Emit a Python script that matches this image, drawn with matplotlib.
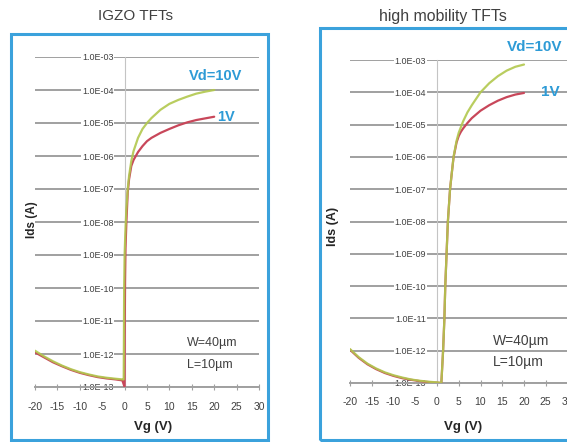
import matplotlib
matplotlib.use("Agg")
import matplotlib.pyplot as plt
import numpy as np
from matplotlib.patches import Rectangle
from matplotlib.ticker import FixedLocator, FixedFormatter

plt.rcParams['font.family'] = ['Liberation Sans', 'DejaVu Sans']

# ---------------- data ----------------
titles = ["IGZO TFTs", "high mobility TFTs"]
x_ticks = [-20, -15, -10, -5, 0, 5, 10, 15, 20, 25, 30]
y_ticks = [1e-13, 1e-12, 1e-11, 1e-10, 1e-9, 1e-8, 1e-7, 1e-6, 1e-5, 1e-4, 1e-3]
y_tick_labels = ["1.0E-13", "1.0E-12", "1.0E-11", "1.0E-10", "1.0E-09", "1.0E-08",
                 "1.0E-07", "1.0E-06", "1.0E-05", "1.0E-04", "1.0E-03"]

# IGZO, Vd = 10 V
igzo_vg_10 = [-20, -18, -16, -14, -12, -10, -8, -6, -4, -2, -0.5, -0.2, -0.15, -0.1, 0.0,
              0.2, 0.4, 0.7, 1.0, 1.5, 2.0, 3.0, 4.0, 5.0, 6.0, 8.0, 10.0, 12.0, 14.0, 16.0, 18.0, 20.0]
igzo_log_10 = [-11.9, -12.07, -12.22, -12.35, -12.46, -12.55, -12.62, -12.68, -12.72, -12.75, -12.77,
               -12.77, -11.5, -10.0, -9.0, -8.2, -7.6, -7.0, -6.6, -6.15, -5.85, -5.45, -5.18, -5.0,
               -4.85, -4.6, -4.42, -4.3, -4.2, -4.11, -4.05, -4.0]
# IGZO, Vd = 1 V
igzo_vg_1 = [-20, -18, -16, -14, -12, -10, -8, -6, -4, -2, -0.5, 0.0, 0.02, 0.1, 0.2,
             0.4, 0.7, 1.0, 1.5, 2.0, 2.5, 3.0, 4.0, 5.0, 6.0, 8.0, 10.0, 12.0, 14.0, 16.0, 18.0, 20.0]
igzo_log_1 = [-11.95, -12.1, -12.25, -12.37, -12.48, -12.57, -12.64, -12.7, -12.74, -12.77, -12.8,
              -13.0, -11.5, -9.8, -8.8, -8.0, -7.1, -6.7, -6.3, -6.12, -6.0, -5.88, -5.7, -5.55,
              -5.45, -5.3, -5.18, -5.07, -4.98, -4.91, -4.86, -4.81]

# high mobility, Vd = 10 V
hm_vg_10 = [-20, -18, -16, -14, -12, -10, -8, -6, -4, -2, 0, 1.0, 1.4, 1.7, 1.9, 2.2, 2.5,
            3.0, 3.4, 3.8, 4.5, 5.0, 6.0, 7.0, 8.0, 10.0, 12.0, 14.0, 16.0, 18.0, 20.0]
hm_log_10 = [-11.95, -12.2, -12.4, -12.55, -12.67, -12.76, -12.83, -12.89, -12.93, -12.96, -12.98,
             -13.0, -12.0, -11.0, -10.0, -9.0, -8.0, -7.0, -6.5, -6.0, -5.5, -5.25, -4.9, -4.62,
             -4.4, -4.0, -3.72, -3.5, -3.33, -3.21, -3.14]
# high mobility, Vd = 1 V
hm_vg_1 = [-20, -18, -16, -14, -12, -10, -8, -6, -4, -2, 0, 1.0, 1.4, 1.7, 1.9, 2.2, 2.5,
           3.0, 3.4, 3.8, 4.5, 5.0, 5.5, 6.0, 7.0, 8.0, 10.0, 12.0, 14.0, 16.0, 18.0, 20.0]
hm_log_1 = [-11.97, -12.22, -12.42, -12.57, -12.69, -12.78, -12.85, -12.9, -12.94, -12.97, -12.99,
            -13.0, -12.0, -11.0, -10.0, -9.0, -8.0, -7.0, -6.5, -6.02, -5.55, -5.35, -5.22,
            -5.12, -4.95, -4.8, -4.57, -4.4, -4.26, -4.15, -4.07, -4.02]

panels = [
    (igzo_vg_10, igzo_log_10, igzo_vg_1, igzo_log_1),
    (hm_vg_10, hm_log_10, hm_vg_1, hm_log_1),
]

# ---------------- layout (pixels) ----------------
W, H = 567, 442
fig = plt.figure(figsize=(W / 100, H / 100), dpi=100)
fig.patch.set_facecolor('white')

def fx(px):
    return px / W

def fy(py):
    return 1 - py / H

BLUE = '#2e9bd6'
BOX = '#3ba2dc'
GREEN = '#b2c84e'
RED = '#c8475a'
GRID = '#a0a0a0'
TXT = '#404040'

# boxes
fig.add_artist(Rectangle((fx(11), fy(440)), fx(268) - fx(11), fy(34) - fy(440),
                         transform=fig.transFigure, facecolor='none', edgecolor=BOX, lw=2.2))
fig.add_artist(Rectangle((fx(320), fy(440)), fx(600) - fx(320), fy(28) - fy(440),
                         transform=fig.transFigure, facecolor='none', edgecolor=BOX, lw=2.2))

axes_px = [
    (35, 259, 57, 387),    # left, right, top, bottom
    (350, 567.5, 60, 383),
]

for i, ((l, r, t, b), data) in enumerate(zip(axes_px, panels)):
    ax = fig.add_axes([fx(l), fy(b), fx(r) - fx(l), fy(t) - fy(b)])
    ax.set_facecolor('none')
    v10, l10, v1, l1 = data
    ax.plot(v1, 10 ** np.array(l1), color=RED, lw=1.6, zorder=3, solid_capstyle='round')
    ax.plot(v10, 10 ** np.array(l10), color=GREEN, lw=1.6, zorder=4, alpha=0.9,
            solid_capstyle='round')
    ax.set_yscale('log')
    ax.set_xlim(-20, 30)
    ax.set_ylim(1e-13, 1e-3)

    ax.xaxis.set_major_locator(FixedLocator(x_ticks))
    ax.set_xticklabels([str(v) for v in x_ticks])
    ax.yaxis.set_major_locator(FixedLocator(y_ticks))
    ax.yaxis.set_major_formatter(FixedFormatter(y_tick_labels))
    ax.yaxis.set_minor_locator(FixedLocator([]))

    for s in ['top', 'right']:
        ax.spines[s].set_visible(False)
    ax.spines['left'].set_position(('data', 0))
    ax.spines['left'].set_color('#c4c4c4')
    ax.spines['left'].set_linewidth(0.8)
    ax.spines['bottom'].set_color(GRID)
    ax.spines['bottom'].set_linewidth(1.4)

    ax.grid(axis='y', color=GRID, lw=1.4)
    ax.tick_params(axis='y', length=0, pad=8, labelsize=6.5, labelcolor=TXT)
    ax.tick_params(axis='x', direction='inout', length=4, width=0.8, color=GRID,
                   pad=9 if i == 0 else 8, labelsize=7.5, labelcolor=TXT)
    for lbl in ax.get_yticklabels():
        lbl.set_bbox(dict(facecolor='white', edgecolor='none', pad=0.6))

# titles
fig.text(fx(135), fy(16), titles[0], ha='center', va='center', fontsize=11, color=TXT)
fig.text(fx(443), fy(17), titles[1], ha='center', va='center', fontsize=11.4, color=TXT)

# axis labels
fig.text(fx(32), fy(220), 'Ids (A)', rotation=90, ha='center', va='center',
         fontsize=8.5, fontweight='bold', color='#262626')
fig.text(fx(333), fy(226), 'Ids (A)', rotation=90, ha='center', va='center',
         fontsize=9, fontweight='bold', color='#262626')
fig.text(fx(153), fy(427), 'Vg (V)', ha='center', va='center', fontsize=9.5,
         fontweight='bold', color='#262626')
fig.text(fx(463), fy(427), 'Vg (V)', ha='center', va='center', fontsize=9.5,
         fontweight='bold', color='#262626')

# annotations
fig.text(fx(216), fy(76), 'Vd=10V', ha='center', va='center', fontsize=10.5,
         fontweight='bold', color=BLUE)
fig.text(fx(226), fy(117), '1V', ha='center', va='center', fontsize=10.5,
         fontweight='bold', color=BLUE)
fig.text(fx(187), fy(343), 'W=40\u00b5m', ha='left', va='center', fontsize=9, color=TXT)
fig.text(fx(187), fy(365), 'L=10\u00b5m', ha='left', va='center', fontsize=9, color=TXT)

fig.text(fx(535), fy(47), 'Vd=10V', ha='center', va='center', fontsize=11,
         fontweight='bold', color=BLUE)
fig.text(fx(550), fy(92), '1V', ha='center', va='center', fontsize=11,
         fontweight='bold', color=BLUE)
fig.text(fx(493), fy(341), 'W=40\u00b5m', ha='left', va='center', fontsize=10, color=TXT)
fig.text(fx(493), fy(362), 'L=10\u00b5m', ha='left', va='center', fontsize=10, color=TXT)

fig.savefig('out.png', dpi=100, facecolor='white')
